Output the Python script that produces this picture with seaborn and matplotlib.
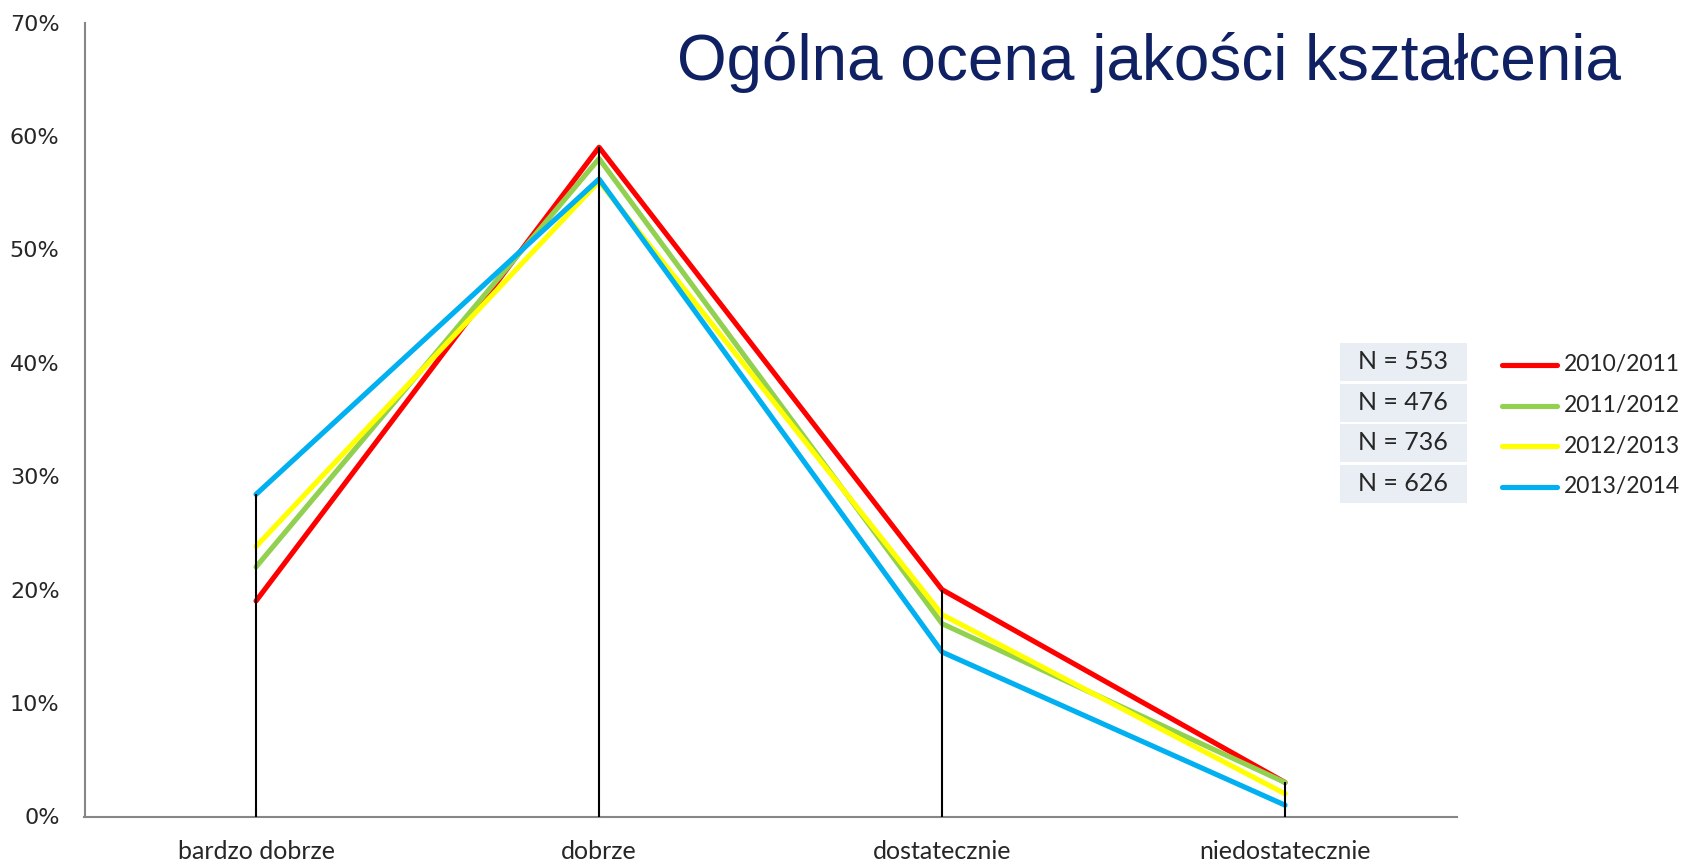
import pandas as pd
import matplotlib
matplotlib.use("Agg")
import matplotlib.pyplot as plt
import seaborn as sns
from matplotlib.lines import Line2D
from matplotlib.patches import Rectangle


categories = ["bardzo dobrze", "dobrze", "dostatecznie", "niedostatecznie"]
years = ["2010/2011", "2011/2012", "2012/2013", "2013/2014"]
sample_sizes = [553, 476, 736, 626]

# share of answers in %, one list per academic year
y2010 = [19.0, 59.0, 20.0, 3.0]
y2011 = [22.0, 58.0, 17.0, 3.0]
y2012 = [23.8, 56.0, 17.8, 2.0]
y2013 = [28.4, 56.2, 14.5, 1.0]

colors = ["#FF0000", "#92D050", "#FFFF00", "#00B0F0"]
y_ticks = [0, 10, 20, 30, 40, 50, 60, 70]

title = "Ogólna ocena jakości kształcenia"


def build_frame():
    rows = []
    for year, vals in zip(years, [y2010, y2011, y2012, y2013]):
        for cat, v in zip(categories, vals):
            rows.append({"kategoria": cat, "odsetek": v, "rok": year})
    return pd.DataFrame(rows)


def draw_chart(df):
    W, H = 1682, 864
    sns.set_style("white")
    plt.rcParams["font.family"] = ["Lato", "DejaVu Sans"]

    fig = plt.figure(figsize=(W / 100, H / 100), dpi=100)
    ax = fig.add_axes([84.5 / W, 1 - 816.5 / H, (1456.6 - 84.5) / W, (816.5 - 22.5) / H])

    sns.lineplot(data=df, x="kategoria", y="odsetek", hue="rok",
                 hue_order=years, palette=dict(zip(years, colors)),
                 sort=False, errorbar=None, lw=3.7, legend=False, ax=ax)
    for line in ax.get_lines():
        line.set_solid_capstyle("round")
        line.set_solid_joinstyle("round")

    # drop lines up to the highest value in each category
    peaks = df.groupby("kategoria", sort=False)["odsetek"].max()
    ax.vlines(list(peaks.index), 0, peaks.values, colors="black", lw=1.5, zorder=5)

    ax.set_xlim(-0.5, 3.5)
    ax.set_ylim(0, 70)
    ax.set_yticks(y_ticks)
    ax.set_yticklabels([f"{t}%" for t in y_ticks], family="DejaVu Sans", fontsize=16)
    ax.set_xlabel("")
    ax.set_ylabel("")
    ax.tick_params(axis="x", length=0, labelsize=18, pad=17)
    ax.tick_params(axis="y", length=6, width=1.5, color="#868686", direction="out", pad=12)
    for side in ["top", "right"]:
        ax.spines[side].set_visible(False)
    for side in ["left", "bottom"]:
        ax.spines[side].set_color("#868686")
        ax.spines[side].set_linewidth(1.5)

    fig.text(1149 / W, 1 - 80 / H, title, ha="center", va="baseline",
             family="Liberation Sans", fontsize=46, color="#0F2063")

    # legend with sample sizes
    for i, (year, n, c) in enumerate(zip(years, sample_sizes, colors)):
        yc = 362 + 40.5 * i
        fig.add_artist(Rectangle((1340 / W, 1 - (yc + 19) / H), 127 / W, 38 / H,
                                 transform=fig.transFigure, facecolor="#E9EDF4",
                                 edgecolor="none"))
        fig.text(1403 / W, 1 - yc / H, f"N = {n}", ha="center", va="center", fontsize=18)
        fig.add_artist(Line2D([1502 / W, 1557 / W], [1 - (yc + 3) / H] * 2,
                              transform=fig.transFigure, color=c, lw=3.7,
                              solid_capstyle="round"))
        fig.text(1564 / W, 1 - (yc + 3) / H, year, ha="left", va="center", fontsize=16.5)

    fig.savefig("out.png", dpi=100)
    plt.close(fig)


if __name__ == "__main__":
    draw_chart(build_frame())
